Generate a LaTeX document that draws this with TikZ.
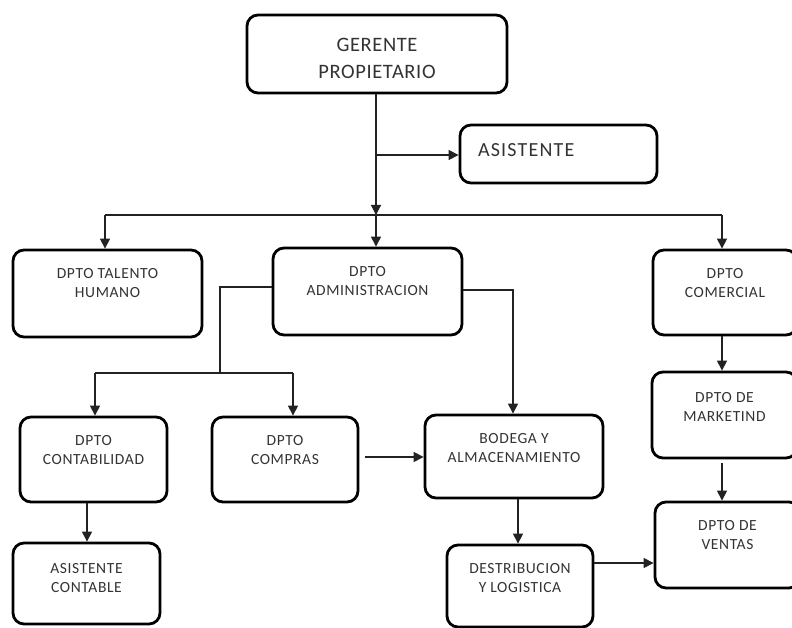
\documentclass[tikz,border=0pt]{standalone}
\usepackage{fontspec}
\setmainfont{Carlito}
\usetikzlibrary{arrows.meta}
\definecolor{txt}{HTML}{333333}
\definecolor{ln}{HTML}{222222}
\newcommand\bt[4]{\parbox[c][#2][t]{#1}{\vspace*{#3}\centering #4\par}}
\begin{document}
\begin{tikzpicture}[x=1pt,y=-1pt,
  box/.style={draw=black, line width=2.8pt, rounded corners=11pt, inner sep=0pt, text=txt},
  small/.style={font=\fontsize{15.5}{19.5}\selectfont\addfontfeature{LetterSpace=4}},
  big/.style={font=\fontsize{20.5}{27}\selectfont\addfontfeature{LetterSpace=3}},
  arr/.style={draw=ln, line width=1.2pt, -{Triangle[length=10pt,width=10pt]}},
  ln/.style={draw=ln, line width=1.2pt}]
\useasboundingbox[fill=white] (0,0) rectangle (792,628);
\begin{scope}
\clip (0,0) rectangle (792,628);
% boxes
\node[box,big] (ger) at (377,54) {\bt{260pt}{78pt}{23pt}{GERENTE\\PROPIETARIO}};
\node[box,font=\fontsize{20}{24}\selectfont\addfontfeature{LetterSpace=6}] (asis) at (558.5,154) {\parbox[c][58pt][t]{197pt}{\vspace*{19pt}\raggedright\hspace*{18pt}ASISTENTE\par}};
\node[box,small] (tal) at (107.5,293.5) {\bt{189pt}{87pt}{18pt}{DPTO TALENTO\\HUMANO}};
\node[box,small] (adm) at (367.5,291.5) {\bt{189pt}{87pt}{18pt}{DPTO\\ADMINISTRACION}};
\node[box,small] (com) at (725,292.5) {\bt{144pt}{85pt}{18pt}{DPTO\\COMERCIAL}};
\node[box,small] (cont) at (93.5,459.5) {\bt{147pt}{85pt}{18pt}{DPTO\\CONTABILIDAD}};
\node[box,small] (comp) at (285,459.5) {\bt{146pt}{85pt}{18pt}{DPTO\\COMPRAS}};
\node[box,small] (bod) at (514,456.5) {\bt{178pt}{83pt}{18pt}{BODEGA Y\\ALMACENAMIENTO}};
\node[box,small] (mkt) at (724.5,415) {\bt{145pt}{86pt}{20pt}{DPTO DE\\MARKETIND}};
\node[box,small] (ven) at (727.5,545) {\bt{145pt}{86pt}{18pt}{DPTO DE\\VENTAS}};
\node[box,small] (ascont) at (86.5,583.5) {\bt{147pt}{81pt}{20pt}{ASISTENTE\\CONTABLE}};
\node[box,small] (des) at (520,586) {\bt{146pt}{82pt}{18pt}{DESTRIBUCION\\Y LOGISTICA}};
\end{scope}
% junction coordinates
\coordinate (j0) at (376,155);
\coordinate (j1) at (376,215);
\coordinate (hl) at (105,215);
\coordinate (hr) at (722,215);
\coordinate (a1) at (220,287);
\coordinate (a2) at (220,373);
\coordinate (cl) at (95,373);
\coordinate (cr) at (293,373);
\coordinate (b1) at (513,290);
\coordinate (cs) at (365,457);
% connectors
\draw[arr] (ger.south -| j1) -- (j1);
\draw[arr] (j0) -- (asis.west |- j0);
\draw[arr] (j1) -- (j1 |- adm.north);
\draw[ln] (hl) -- (hr);
\draw[arr] (hl) -- (hl |- tal.north);
\draw[arr] (hr) -- (hr |- com.north);
\draw[ln] (adm.west |- a1) -- (a1) -- (a2);
\draw[ln] (cl) -- (cr);
\draw[arr] (cl) -- (cl |- cont.north);
\draw[arr] (cr) -- (cr |- comp.north);
\draw[arr] (adm.east |- b1) -- (b1) -- (b1 |- bod.north);
\draw[arr] (cs) -- (bod.west |- cs);
\draw[arr] ([xshift=-6.5pt]cont.south) -- ([xshift=-6.5pt]cont.south |- ascont.north);
\draw[arr] ([xshift=4pt]bod.south) -- ([xshift=4pt]bod.south |- des.north);
\draw[arr] (des.east |- 0,563) -- (ven.west |- 0,563);
\draw[arr] ([xshift=-3pt]com.south) -- ([xshift=-3pt]com.south |- mkt.north);
\draw[arr] ([xshift=-2.5pt,yshift=-4pt]mkt.south) -- ([xshift=-2.5pt]mkt.south |- ven.north);
\end{tikzpicture}
\end{document}
